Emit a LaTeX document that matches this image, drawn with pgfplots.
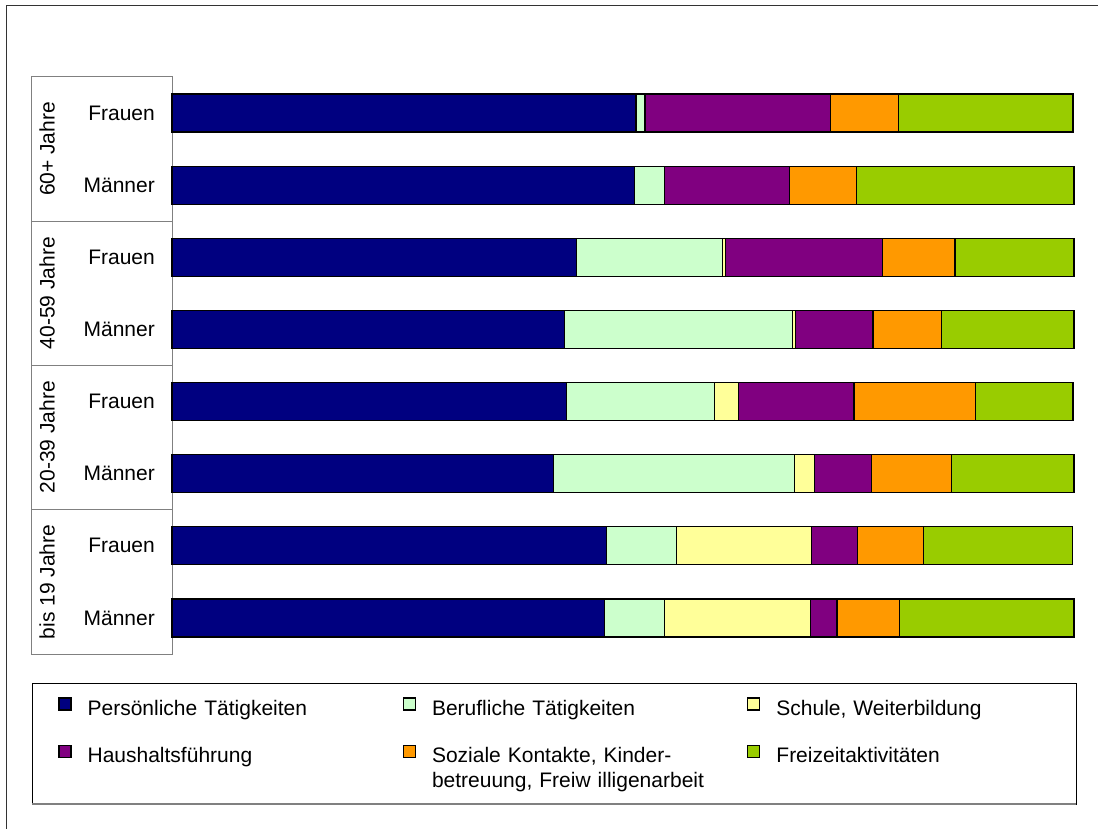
\documentclass[border=0pt]{standalone}
\usepackage{fontspec}
\setmainfont{Liberation Sans}
\usepackage{pgfplots}
\pgfplotsset{compat=1.18}

\definecolor{cPers}{HTML}{000080}
\definecolor{cBeruf}{HTML}{CCFFCC}
\definecolor{cSchule}{HTML}{FFFF99}
\definecolor{cHaus}{HTML}{800080}
\definecolor{cSozial}{HTML}{FF9900}
\definecolor{cFrei}{HTML}{99CC00}

\begin{document}
\begin{tikzpicture}[font=\fontsize{21}{25}\selectfont]
\path[use as bounding box] (0pt,0pt) rectangle (1098pt,-829pt);
% outer frame
\draw[black!80, line width=1pt] (6pt,-840pt) -- (6pt,-6pt) -- (1110pt,-6pt);
% category box
\draw[gray, line width=1pt] (31pt,-77pt) rectangle (172pt,-654pt);
\draw[gray, line width=1pt] (31pt,-221.25pt) -- (172pt,-221.25pt);
\draw[gray, line width=1pt] (31pt,-365.5pt) -- (172pt,-365.5pt);
\draw[gray, line width=1pt] (31pt,-509.75pt) -- (172pt,-509.75pt);
\node[rotate=90] at (47pt,-149pt) {60+ Jahre};
\node[rotate=90] at (47pt,-293pt) {40-59 Jahre};
\node[rotate=90] at (47pt,-437pt) {20-39 Jahre};
\node[rotate=90] at (47pt,-582pt) {bis 19 Jahre};
% legend box
\draw[black, line width=1pt] (32pt,-683pt) rectangle (1076pt,-804pt);
\draw[gray, line width=1.5pt] (32pt,-804pt) -- (1076pt,-804pt);

\begin{axis}[
  at={(172pt,-654pt)}, anchor=south west,
  scale only axis, width=901pt, height=577pt,
  xbar stacked, bar width=38pt,
  xmin=0, xmax=100, ymin=0.5, ymax=8.5,
  clip=false,
  axis lines*=left,
  x axis line style={draw=none},
  y axis line style={draw=none},
  xtick=\empty,
  ytick={1,...,8},
  yticklabels={Männer,Frauen,Männer,Frauen,Männer,Frauen,Männer,Frauen},
  major tick length=0pt,
  yticklabel style={inner sep=0pt, font=\fontsize{21}{25}\selectfont},
  yticklabel shift=17pt,
  every axis plot/.append style={draw=black, line width=1.2pt},
  legend columns=3,
  legend cell align=left,
  legend image code/.code={\draw[#1, draw=black, line width=1.4pt] (0pt,-1.5pt) rectangle (12pt,10.5pt);},
  legend style={draw=none, fill=none, inner sep=0pt,
    at={(-0.1265,-0.0745)}, anchor=north west,
    font=\fontsize{21}{25}\selectfont,
    nodes={inner sep=0pt, text width=310pt, align=left},
    /tikz/row sep=28pt,
    /tikz/every odd column/.append style={column sep=16pt},
    /tikz/every even column/.append style={column sep=5pt}},
]
\addplot[fill=cPers] coordinates {(48.0,1) (48.2,2) (42.3,3) (43.8,4) (43.6,5) (44.9,6) (51.3,7) (51.5,8)};
\addplot[fill=cBeruf] coordinates {(6.7,1) (7.8,2) (26.8,3) (16.4,4) (25.3,5) (16.2,6) (3.4,7) (1.0,8)};
\addplot[fill=cSchule] coordinates {(16.2,1) (15.0,2) (2.2,3) (2.7,4) (0.3,5) (0.3,6) (0,7) (0,8)};
\addplot[fill=cHaus] coordinates {(2.9,1) (5.1,2) (6.3,3) (12.8,4) (8.6,5) (17.5,6) (13.8,7) (20.6,8)};
\addplot[fill=cSozial] coordinates {(6.9,1) (7.3,2) (8.9,3) (13.5,4) (7.6,5) (8.0,6) (7.5,7) (7.5,8)};
\addplot[fill=cFrei] coordinates {(19.4,1) (16.5,2) (13.6,3) (10.8,4) (14.7,5) (13.2,6) (24.1,7) (19.4,8)};
\addlegendentry{Persönliche Tätigkeiten}
\addlegendentry{Berufliche Tätigkeiten}
\addlegendentry{Schule, Weiterbildung}
\addlegendentry{Haushaltsführung}
\addlegendentry{Soziale Kontakte, Kinder-\\betreuung, Freiw illigenarbeit}
\addlegendentry{Freizeitaktivitäten}
\end{axis}
\end{tikzpicture}
\end{document}
